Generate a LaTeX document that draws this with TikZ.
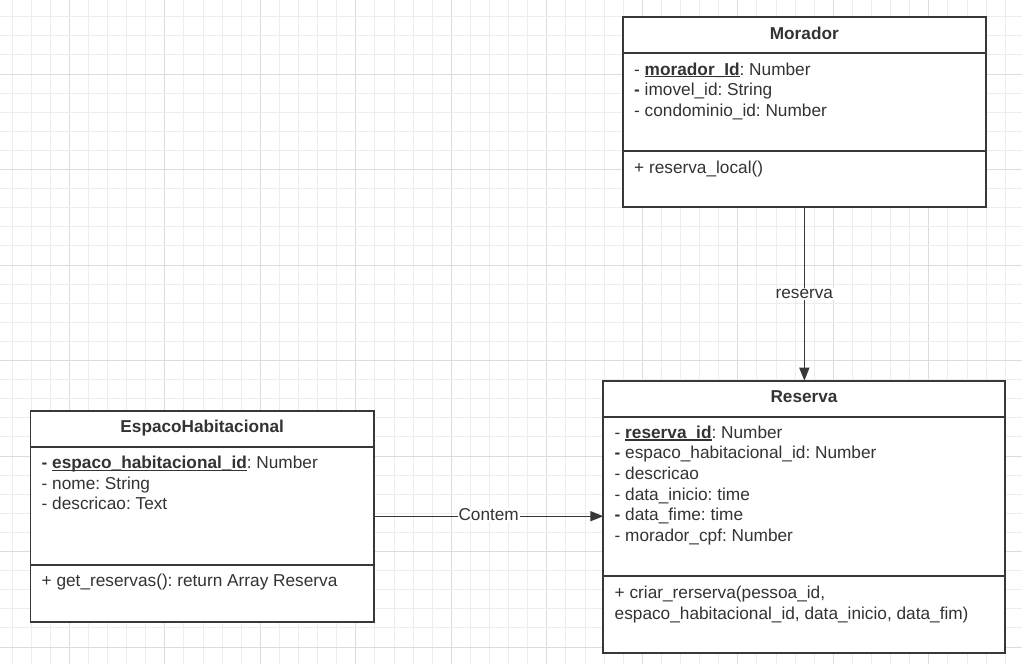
\documentclass[tikz,border=0pt]{standalone}
\usepackage{fontspec}
\setmainfont{Liberation Sans}
\usetikzlibrary{arrows.meta}
\definecolor{txt}{HTML}{333333}
\definecolor{ln}{HTML}{383838}
\definecolor{gminor}{HTML}{EDEDED}
\definecolor{gmajor}{HTML}{DCDCDC}
\newcommand\myul[1]{\setbox0\hbox{#1}\rlap{\color{txt}\rule[-2.4pt]{\wd0}{1.3pt}}\box0}
\frenchspacing
\begin{document}
\begin{tikzpicture}[x=1pt,y=-1pt,
  umlbox/.style={draw=ln, line width=1.8pt, fill=white, inner sep=0pt, outer sep=0pt, anchor=north west},
  sepline/.style={draw=ln, line width=1.8pt},
  attr/.style={anchor=base west, inner sep=0pt, text=txt, font=\fontsize{17.25}{20.6}\selectfont},
  ttl/.style={anchor=base, inner sep=0pt, text=txt, font=\fontsize{17.2}{20.6}\selectfont\bfseries},
  conn/.style={draw=ln, line width=1.4pt, -{Triangle[length=13pt,width=10pt]}},
  lbl/.style={fill=white, inner sep=1pt, anchor=base, text=txt, font=\fontsize{17.2}{20.6}\selectfont}]
\useasboundingbox (0,0) rectangle (1022,664);
\fill[white] (0,0) rectangle (1022,664);
% grid
\foreach \k in {-3,...,49}{
  \pgfmathsetmacro\gx{69.3+19.1*\k}
  \pgfmathtruncatemacro\md{mod(\k+50,5)}
  \ifnum\md=0 \draw[gmajor,line width=1pt] (\gx,0) -- (\gx,664);
  \else \draw[gminor,line width=1pt] (\gx,0) -- (\gx,664); \fi
}
\foreach \k in {-3,...,31}{
  \pgfmathsetmacro\gy{74+19.1*\k}
  \pgfmathtruncatemacro\md{mod(\k+50,5)}
  \ifnum\md=0 \draw[gmajor,line width=1pt] (0,\gy) -- (1022,\gy);
  \else \draw[gminor,line width=1pt] (0,\gy) -- (1022,\gy); \fi
}
% Morador
\node[umlbox, minimum width=362.7pt, minimum height=190pt] (morador) at (623,17.3) {};
\draw[sepline] (morador.west |- 0,53.3) -- (morador.east |- 0,53.3);
\draw[sepline] (morador.west |- 0,151.3) -- (morador.east |- 0,151.3);
\node[ttl] (mt) at (804.3,39.2) {Morador};
\node[attr] (ma1) at (634,75) {- \myul{\textbf{morador\_Id}}: Number};
\node[attr] (ma2) at (634,95.6) {\textbf{-} imovel\_id: String};
\node[attr] (ma3) at (634,116.2) {- condominio\_id: Number};
\node[attr] (mm1) at (634,173) {+ reserva\_local()};
% Reserva
\node[umlbox, minimum width=401.4pt, minimum height=272pt] (reserva) at (603.3,380.7) {};
\draw[sepline] (reserva.west |- 0,416.7) -- (reserva.east |- 0,416.7);
\draw[sepline] (reserva.west |- 0,576) -- (reserva.east |- 0,576);
\node[ttl] (rt) at (804,402.3) {Reserva};
\node[attr] (ra1) at (614.5,438.3) {- \myul{\textbf{reserva\_id}}: Number};
\node[attr] (ra2) at (614.5,458.9) {\textbf{-} espaco\_habitacional\_id: Number};
\node[attr] (ra3) at (614.5,479.5) {- descricao};
\node[attr] (ra4) at (614.5,500.1) {- data\_inicio: time};
\node[attr] (ra5) at (614.5,520.7) {\textbf{-} data\_fime: time};
\node[attr] (ra6) at (614.5,541.3) {- morador\_cpf: Number};
\node[attr] (rm1) at (614.5,598.5) {+ criar\_rerserva(pessoa\_id,};
\node[attr] (rm2) at (614.5,619.1) {espaco\_habitacional\_id, data\_inicio, data\_fim)};
% EspacoHabitacional
\node[umlbox, minimum width=343.5pt, minimum height=211pt] (espaco) at (30.5,410.7) {};
\draw[sepline] (espaco.west |- 0,446.7) -- (espaco.east |- 0,446.7);
\draw[sepline] (espaco.west |- 0,565) -- (espaco.east |- 0,565);
\node[ttl] (et) at (202.2,432.3) {EspacoHabitacional};
\node[attr] (ea1) at (41.5,468.5) {\textbf{-} \myul{\textbf{espaco\_habitacional\_id}}: Number};
\node[attr] (ea2) at (41.5,489.1) {- nome: String};
\node[attr] (ea3) at (41.5,509.7) {- descricao: Text};
\node[attr] (em1) at (41.5,586.8) {+ get\_reservas(): return Array Reserva};
% connectors
\draw[conn] (morador.south) -- (morador.south |- reserva.north) node[lbl, pos=0.5, anchor=center] (lr) {reserva};
\draw[conn] (espaco.east) -- (espaco.east -| reserva.west) node[lbl, pos=0.5, anchor=center, yshift=1.5pt] (lc) {Contem};
\end{tikzpicture}
\end{document}
